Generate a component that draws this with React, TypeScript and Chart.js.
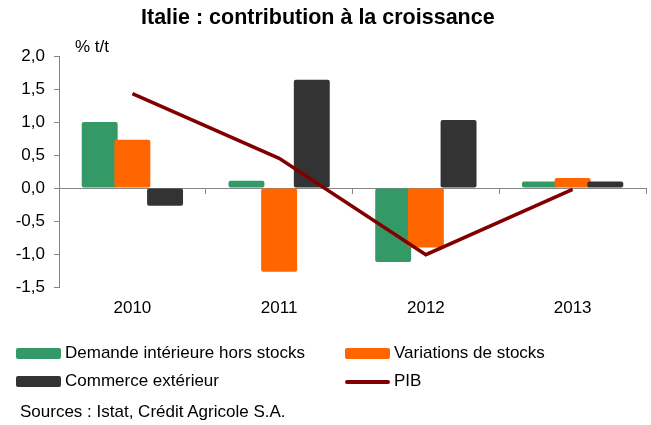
import React, { useEffect, useRef } from "react";
import { Chart, registerables } from "chart.js";

Chart.register(...registerables);

const years = ["2010", "2011", "2012", "2013"];
const demandeInterieure = [1.0, 0.11, -1.12, 0.1];
const variationsStocks = [0.73, -1.27, -0.9, 0.15];
const commerceExterieur = [-0.27, 1.64, 1.03, 0.1];
const pib = [1.43, 0.45, -1.01, -0.02];
const yTicks = [-1.5, -1.0, -0.5, 0.0, 0.5, 1.0, 1.5, 2.0];

const GREEN = "#339966";
const ORANGE = "#FF6600";
const DARK = "#333333";
const MAROON = "#800000";
const AXIS = "#868686";
const FONT = "'Liberation Sans', Arial, sans-serif";

// draw bars left-to-right (later bars overlap earlier ones), then the line on top
const drawOrderPlugin = {
  id: "drawOrder",
  beforeDatasetsDraw(chart: any) {
    [1, 2, 3, 0].forEach((i) => {
      const meta = chart.getDatasetMeta(i);
      if (meta && meta.controller && !meta.hidden) meta.controller.draw();
    });
    return false;
  },
};

export default function App() {
  const ref = useRef<HTMLCanvasElement | null>(null);

  useEffect(() => {
    if (!ref.current) return;
    const barCommon = {
      type: "bar" as const,
      categoryPercentage: 0.668,
      barPercentage: 1.1,
      borderRadius: 2,
      borderSkipped: false,
    };
    const chart = new Chart(ref.current, {
      type: "bar",
      data: {
        labels: years,
        datasets: [
          {
            type: "line",
            label: "PIB",
            data: pib,
            borderColor: MAROON,
            backgroundColor: MAROON,
            borderWidth: 3.5,
            pointRadius: 0,
            tension: 0,
            order: 0,
          } as any,
          { ...barCommon, label: "Demande intérieure hors stocks", data: demandeInterieure, backgroundColor: GREEN, order: 1 },
          { ...barCommon, label: "Variations de stocks", data: variationsStocks, backgroundColor: ORANGE, order: 2 },
          { ...barCommon, label: "Commerce extérieur", data: commerceExterieur, backgroundColor: DARK, order: 3 },
        ],
      },
      options: {
        animation: false,
        responsive: false,
        maintainAspectRatio: false,
        layout: { padding: { top: 56, right: 5, bottom: 0, left: 0 } },
        plugins: {
          legend: { display: false },
          title: { display: false },
          tooltip: { enabled: false },
        },
        scales: {
          x: {
            type: "category",
            position: "bottom",
            offset: true,
            grid: { display: false, drawTicks: false },
            border: { display: false },
            ticks: { color: "#000", font: { family: FONT, size: 17 }, padding: 11 },
            afterFit: (scale: any) => {
              scale.height = 138;
            },
          },
          x2: {
            type: "category",
            axis: "x",
            labels: years,
            position: { y: 0 },
            offset: true,
            grid: { display: true, offset: true, drawOnChartArea: false, drawTicks: true, tickLength: 5, color: AXIS },
            border: { display: true, color: AXIS, width: 1 },
            ticks: { display: false },
          },
          y: {
            type: "linear",
            min: -1.5,
            max: 2.0,
            afterBuildTicks: (scale: any) => {
              scale.ticks = yTicks.map((v) => ({ value: v }));
            },
            grid: { display: true, drawOnChartArea: false, drawTicks: true, tickLength: 5, color: AXIS },
            border: { display: true, color: AXIS, width: 1 },
            ticks: {
              color: "#000",
              font: { family: FONT, size: 17 },
              padding: 9,
              callback: (v: any) => Number(v).toFixed(1).replace(".", ","),
            },
            afterFit: (scale: any) => {
              scale.width = 59;
            },
          },
        },
      } as any,
      plugins: [drawOrderPlugin],
    });
    return () => chart.destroy();
  }, []);

  const text: React.CSSProperties = {
    position: "absolute",
    fontFamily: FONT,
    fontSize: 17,
    lineHeight: "20px",
    color: "#000",
    whiteSpace: "nowrap",
  };
  const box = (left: number, top: number, color: string, h = 11): React.CSSProperties => ({
    position: "absolute",
    left,
    top,
    width: 45,
    height: h,
    background: color,
    borderRadius: 2,
  });

  return (
    <div style={{ position: "absolute", left: 0, top: 0, width: 651, height: 425, background: "#fff" }}>
      <canvas ref={ref} width={651} height={425} style={{ position: "absolute", left: 0, top: 0 }} />
      <div style={{ ...text, left: 141, top: 5, fontSize: 21.5, lineHeight: "24px", fontWeight: "bold" }}>
        Italie : contribution à la croissance
      </div>
      <div style={{ ...text, left: 75, top: 37 }}>% t/t</div>
      <div style={box(16, 348, GREEN)} />
      <div style={{ ...text, left: 65, top: 343 }}>Demande intérieure hors stocks</div>
      <div style={box(345, 348, ORANGE)} />
      <div style={{ ...text, left: 394, top: 343 }}>Variations de stocks</div>
      <div style={box(16, 376, DARK)} />
      <div style={{ ...text, left: 65, top: 371 }}>Commerce extérieur</div>
      <div style={box(345, 380, MAROON, 3.5)} />
      <div style={{ ...text, left: 394, top: 371 }}>PIB</div>
      <div style={{ ...text, left: 20, top: 402 }}>Sources : Istat, Crédit Agricole S.A.</div>
    </div>
  );
}
